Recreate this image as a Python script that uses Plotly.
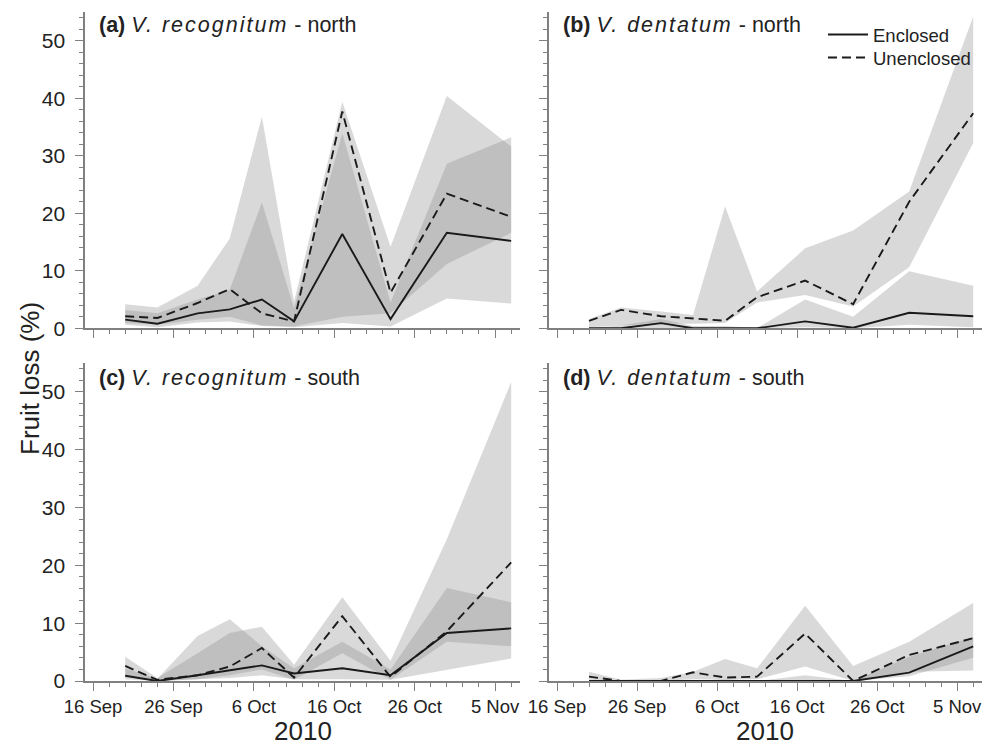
import plotly.graph_objects as go
from plotly.subplots import make_subplots

# ---------------- data ----------------
dates = ['2010-09-20', '2010-09-24', '2010-09-29', '2010-10-03', '2010-10-07',
         '2010-10-11', '2010-10-17', '2010-10-23', '2010-10-30', '2010-11-07']

# (a) V. recognitum - north
a_enc = [1.5, 0.8, 2.6, 3.3, 5.0, 1.2, 16.4, 1.6, 16.6, 15.2]
a_unenc = [2.1, 1.8, 4.4, 6.8, 2.6, 1.2, 37.7, 6.2, 23.4, 19.4]
a_enc_lo = [0.6, 0.2, 1.0, 1.2, 0.4, 0.2, 0.9, 0.3, 5.2, 4.3]
a_enc_hi = [3.2, 2.6, 5.0, 6.7, 21.9, 3.5, 33.9, 4.5, 28.6, 33.2]
a_unenc_lo = [0.9, 0.6, 1.5, 2.0, 0.5, 0.3, 2.0, 2.6, 11.2, 16.6]
a_unenc_hi = [4.2, 3.6, 7.4, 15.6, 36.8, 4.6, 39.4, 14.2, 40.4, 31.6]

# (b) V. dentatum - north
b_enc = [0, 0, 0.9, 0, 0, 0, 1.2, 0.1, 2.7, 2.1]
b_unenc = [1.3, 3.2, 2.1, 1.7, 1.3, 5.4, 8.3, 4.2, 22.0, 37.4]
b_enc_lo = [0, 0, 0, 0, 0, 0, 0.2, 0, 0.6, 0.2]
b_enc_hi = [0, 0.5, 1.6, 0.4, 0.4, 0, 5.0, 2.0, 9.9, 7.4]
b_unenc_lo = [0.2, 0.5, 0.8, 0.8, 0.9, 4.5, 5.8, 3.8, 10.6, 32.2]
b_unenc_hi = [1.6, 3.6, 2.9, 2.3, 21.2, 6.4, 13.9, 17.0, 23.8, 54.2]

# (c) V. recognitum - south
c_enc = [0.9, 0, 1.0, 1.9, 2.7, 1.3, 2.2, 1.0, 8.3, 9.1]
c_unenc = [2.6, 0.2, 1.0, 2.5, 5.7, 0.6, 11.2, 0.7, 8.6, 20.5]
c_enc_lo = [0.3, 0, 0.3, 0.5, 1.0, 0.3, 0.3, 0.2, 1.9, 3.9]
c_enc_hi = [2.2, 0.4, 7.8, 10.7, 6.0, 2.2, 6.8, 2.0, 16.1, 13.6]
c_unenc_lo = [1.0, 0, 0.3, 1.0, 2.0, 0.2, 4.8, 0.2, 6.8, 6.0]
c_unenc_hi = [4.2, 0.5, 4.8, 8.3, 9.4, 2.8, 14.5, 3.5, 24.5, 51.7]

# (d) V. dentatum - south
d_enc = [0, 0, 0, 0, 0, 0, 0, 0, 1.45, 6.0]
d_unenc = [0.75, 0, 0, 1.5, 0.6, 0.75, 8.2, 0, 4.5, 7.4]
d_enc_lo = [0, 0, 0, 0, 0, 0, 0, 0, 0.8, 4.0]
d_enc_hi = [0, 0, 0, 0, 0.3, 0, 1.0, 0, 4.2, 7.6]
d_unenc_lo = [0.2, 0, 0, 0.3, 0.2, 0.3, 2.5, 0, 1.6, 1.8]
d_unenc_hi = [1.6, 0.2, 0.5, 1.6, 3.8, 2.2, 13.0, 2.6, 6.8, 13.5]

panel_letters = ["(a)", "(b)", "(c)", "(d)"]
panel_species = ["V. recognitum", "V. dentatum", "V. recognitum", "V. dentatum"]
panel_sites = ["north", "north", "south", "south"]
series_names = ["Enclosed", "Unenclosed"]
y_title = "Fruit loss (%)"
x_title = "2010"

FONT = "Liberation Sans, Arial, Helvetica, sans-serif"
BAND = "rgba(140,140,140,0.33)"
LINE = "#1a1a1a"
AXIS = "#808080"
TXT = "#222222"

panels = [
    (1, 1, a_enc, a_unenc, a_enc_lo, a_enc_hi, a_unenc_lo, a_unenc_hi),
    (1, 2, b_enc, b_unenc, b_enc_lo, b_enc_hi, b_unenc_lo, b_unenc_hi),
    (2, 1, c_enc, c_unenc, c_enc_lo, c_enc_hi, c_unenc_lo, c_unenc_hi),
    (2, 2, d_enc, d_unenc, d_enc_lo, d_enc_hi, d_unenc_lo, d_unenc_hi),
]

fig = make_subplots(rows=2, cols=2)

for idx, (r, c, enc, unenc, elo, ehi, ulo, uhi) in enumerate(panels):
    for lo, hi in ((ulo, uhi), (elo, ehi)):
        fig.add_trace(go.Scatter(
            x=dates + dates[::-1], y=hi + lo[::-1], fill="toself",
            fillcolor=BAND, line=dict(width=0), mode="lines",
            hoverinfo="skip", showlegend=False), row=r, col=c)
    fig.add_trace(go.Scatter(
        x=dates, y=enc, mode="lines", name=series_names[0], legend="legend",
        line=dict(color=LINE, width=1.9), showlegend=(idx == 1)), row=r, col=c)
    fig.add_trace(go.Scatter(
        x=dates, y=unenc, mode="lines", name=series_names[1], legend="legend2",
        line=dict(color=LINE, width=1.9, dash="9px,5px"), showlegend=(idx == 1)), row=r, col=c)

W, H = 993, 746
xdom_l = [85 / W, 520 / W]
xdom_r = [549 / W, 982 / W]
ydom_t = [1 - 328.3 / H, 1 - 12 / H]
ydom_b = [1 - 681 / H, 1 - 363 / H]

xcommon = dict(
    type="date", range=["2010-09-15", "2010-11-08 02:24"], automargin=False,
    tick0="2010-09-16", dtick=10 * 86400000, tickformat="%-d %b",
    ticks="outside", ticklen=8, tickwidth=1.3, tickcolor=AXIS,
    showline=True, linecolor=AXIS, linewidth=1.5, showgrid=False, zeroline=False,
    minor=dict(ticks="outside", ticklen=4, tickwidth=1, tickcolor=AXIS,
               tick0="2010-09-16", dtick=2 * 86400000, showgrid=False),
    tickfont=dict(family=FONT, size=18.5, color=TXT),
    ticklabelstandoff=0,
)
ycommon = dict(
    range=[0, 55], tick0=0, dtick=10, automargin=False,
    ticks="outside", ticklen=8, tickwidth=1.3, tickcolor=AXIS,
    showline=True, linecolor=AXIS, linewidth=1.5, showgrid=False, zeroline=False,
    minor=dict(ticks="outside", ticklen=4, tickwidth=1, tickcolor=AXIS,
               dtick=2, showgrid=False),
    tickfont=dict(family=FONT, size=21, color=TXT),
    ticksuffix="\u00a0",
)

fig.update_layout(
    template="none",
    xaxis=dict(xcommon, domain=xdom_l, showticklabels=False),
    xaxis2=dict(xcommon, domain=xdom_r, showticklabels=False),
    xaxis3=dict(xcommon, domain=xdom_l),
    xaxis4=dict(xcommon, domain=xdom_r),
    yaxis=dict(ycommon, domain=ydom_t),
    yaxis2=dict(ycommon, domain=ydom_t, showticklabels=False),
    yaxis3=dict(ycommon, domain=ydom_b),
    yaxis4=dict(ycommon, domain=ydom_b, showticklabels=False),
)

title_pos = [(97, 25), (561, 25), (97, 378), (561, 378)]
annotations = []
for letter, species, site, (px, py) in zip(panel_letters, panel_species, panel_sites, title_pos):
    text = (f"<b>{letter}</b> "
            f"<i><span style='letter-spacing:2px'>{species}</span></i> - {site}")
    annotations.append(dict(
        text=text, x=px / W, y=1 - py / H, xref="paper", yref="paper",
        xanchor="left", yanchor="middle", showarrow=False,
        font=dict(family=FONT, size=21.5, color=TXT)))
annotations.append(dict(
    text=y_title, x=30 / W, y=1 - 379 / H, xref="paper", yref="paper",
    xanchor="center", yanchor="middle", textangle=-90, showarrow=False,
    font=dict(family=FONT, size=26, color=TXT)))
for dom in (xdom_l, xdom_r):
    annotations.append(dict(
        text=x_title, x=(dom[0] + dom[1]) / 2, y=1 - 731 / H, xref="paper", yref="paper",
        xanchor="center", yanchor="middle", showarrow=False,
        font=dict(family=FONT, size=26, color=TXT)))

leg_common = dict(xanchor="left", yanchor="middle", bgcolor="rgba(0,0,0,0)", borderwidth=0,
                  font=dict(family=FONT, size=18.5, color=TXT), itemwidth=40)
fig.update_layout(
    width=W, height=H, margin=dict(l=0, r=0, t=0, b=0, autoexpand=False),
    paper_bgcolor="white", plot_bgcolor="white",
    annotations=annotations,
    legend=dict(leg_common, x=823 / W, y=1 - 35 / H),
    legend2=dict(leg_common, x=823 / W, y=1 - 58 / H),
    font=dict(family=FONT, color=TXT),
    showlegend=True,
)

fig.write_html("out.html")
